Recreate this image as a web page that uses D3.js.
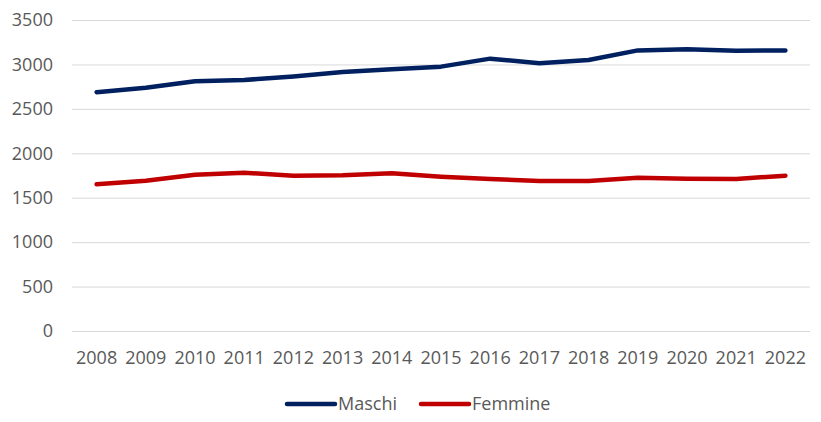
<!DOCTYPE html>
<html>
<head>
<meta charset="utf-8">
<script src="https://cdn.jsdelivr.net/npm/d3@7"></script>
<style>
  body { margin: 0; background: #fff; }
  svg { display: block; font-family: "Open Sans", sans-serif; }
</style>
</head>
<body>
<script>
/*** data ***/
const years = ["2008", "2009", "2010", "2011", "2012", "2013", "2014", "2015",
               "2016", "2017", "2018", "2019", "2020", "2021", "2022"];
const maschi = [2688, 2737, 2810, 2825, 2865, 2915, 2945, 2975,
                3065, 3012, 3050, 3158, 3172, 3155, 3158];
const femmine = [1651, 1692, 1758, 1782, 1748, 1752, 1775, 1737,
                 1711, 1688, 1688, 1725, 1714, 1711, 1748];
const yTicks = [0, 500, 1000, 1500, 2000, 2500, 3000, 3500];
const seriesNames = ["Maschi", "Femmine"];
const colors = ["#002060", "#C00000"];

/*** layout ***/
const width = 821, height = 422;
const margin = { top: 20, right: 11, bottom: 91, left: 72 };

const svg = d3.select("body")
  .append("svg")
  .attr("width", width)
  .attr("height", height);

const x = d3.scaleBand()
  .domain(years)
  .range([margin.left, width - margin.right]);

const y = d3.scaleLinear()
  .domain([0, 3500])
  .range([height - margin.bottom, margin.top]);

// gridlines
svg.append("g")
  .selectAll("line")
  .data(yTicks)
  .join("line")
  .attr("x1", margin.left)
  .attr("x2", width - margin.right)
  .attr("y1", d => y(d) + 0.5)
  .attr("y2", d => y(d) + 0.5)
  .attr("stroke", "#d9d9d9")
  .attr("stroke-width", 1);

// y axis labels
svg.append("g")
  .attr("transform", `translate(${margin.left - 19},0)`)
  .call(d3.axisLeft(y).tickValues(yTicks).tickFormat(d3.format("d")).tickSize(0).tickPadding(0))
  .call(g => g.select(".domain").remove())
  .call(g => g.selectAll("text")
    .attr("font-size", 18)
    .attr("font-family", "Open Sans, sans-serif")
    .attr("fill", "#595959"));

// x axis labels
svg.append("g")
  .attr("transform", `translate(0,${height - margin.bottom})`)
  .call(d3.axisBottom(x).tickSize(0).tickPadding(20))
  .call(g => g.select(".domain").remove())
  .call(g => g.selectAll("text")
    .attr("font-size", 18)
    .attr("font-family", "Open Sans, sans-serif")
    .attr("fill", "#595959"));

// lines
const line = d3.line()
  .x((d, i) => x(years[i]) + x.bandwidth() / 2)
  .y(d => y(d));

[maschi, femmine].forEach((s, i) => {
  svg.append("path")
    .datum(s)
    .attr("d", line)
    .attr("fill", "none")
    .attr("stroke", colors[i])
    .attr("stroke-width", 4.5)
    .attr("stroke-linecap", "round")
    .attr("stroke-linejoin", "round");
});

// legend
const legendX = [287, 421];
const legend = svg.append("g")
  .selectAll("g")
  .data(seriesNames)
  .join("g")
  .attr("transform", (d, i) => `translate(${legendX[i]},404)`);

legend.append("line")
  .attr("x1", 0)
  .attr("x2", 48)
  .attr("stroke", (d, i) => colors[i])
  .attr("stroke-width", 4.5)
  .attr("stroke-linecap", "round");

legend.append("text")
  .attr("x", 51)
  .attr("dy", "0.35em")
  .attr("font-size", 18)
  .attr("fill", "#595959")
  .text(d => d);
</script>
</body>
</html>
